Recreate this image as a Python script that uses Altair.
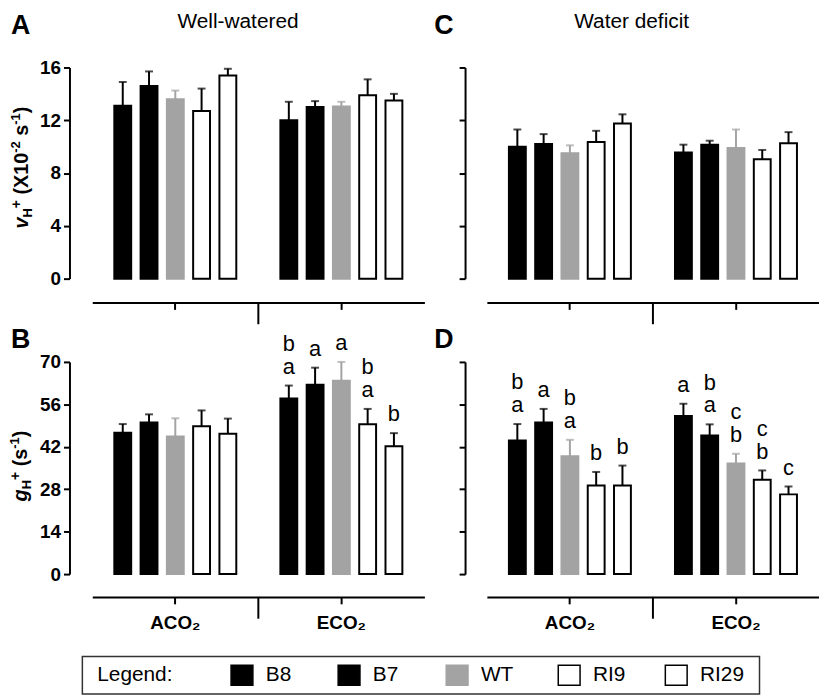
import altair as alt
import pandas as pd

FONT = "Liberation Sans"

genotypes = ["B8", "B7", "WT", "RI9", "RI29"]
co2_levels = ["ACO₂", "ECO₂"]
fill_colors = ["#000000", "#000000", "#a3a3a3", "#ffffff", "#ffffff"]
edge_colors = ["#000000", "#000000", "#a3a3a3", "#000000", "#000000"]

# Panel A: vH+ (x10^-2 s^-1), well-watered
a_mean_aco2 = [13.1, 14.6, 13.6, 12.7, 15.4]
a_se_aco2 = [1.8, 1.1, 0.65, 1.7, 0.5]
a_mean_eco2 = [12.0, 13.0, 13.05, 13.9, 13.5]
a_se_eco2 = [1.4, 0.45, 0.35, 1.2, 0.5]

# Panel C: vH+ water deficit
c_mean_aco2 = [10.0, 10.2, 9.5, 10.35, 11.75]
c_se_aco2 = [1.3, 0.75, 0.6, 0.85, 0.7]
c_mean_eco2 = [9.55, 10.15, 9.9, 9.05, 10.25]
c_se_eco2 = [0.6, 0.3, 1.4, 0.7, 0.85]

# Panel B: gH+ (s^-1), well-watered
b_mean_aco2 = [46.6, 50.0, 45.4, 48.8, 46.3]
b_se_aco2 = [2.9, 2.7, 6.0, 5.2, 5.0]
b_mean_eco2 = [57.9, 62.5, 63.8, 49.4, 42.2]
b_se_eco2 = [4.3, 5.6, 6.2, 5.1, 4.3]
b_lower_aco2 = ["", "", "", "", ""]
b_upper_aco2 = ["", "", "", "", ""]
b_lower_eco2 = ["a", "a", "a", "a", "b"]
b_upper_eco2 = ["b", "", "", "b", ""]

# Panel D: gH+ water deficit
d_mean_aco2 = [44.1, 50.0, 38.9, 29.2, 29.2]
d_se_aco2 = [5.4, 4.5, 5.4, 4.5, 6.6]
d_mean_eco2 = [52.2, 45.7, 36.5, 31.1, 26.3]
d_se_eco2 = [4.0, 3.7, 3.2, 3.1, 2.6]
d_lower_aco2 = ["a", "a", "a", "b", "b"]
d_upper_aco2 = ["b", "", "b", "", ""]
d_lower_eco2 = ["a", "a", "b", "b", "c"]
d_upper_eco2 = ["", "b", "c", "c", ""]

empty = ["", "", "", "", ""]


def make_df(m1, s1, m2, s2, lo1=empty, up1=empty, lo2=empty, up2=empty):
    rows = []
    for co2, m, s, lo, up in [(co2_levels[0], m1, s1, lo1, up1), (co2_levels[1], m2, s2, lo2, up2)]:
        for g, mv, sv, l, u in zip(genotypes, m, s, lo, up):
            rows.append({"co2": co2, "genotype": g, "mean": mv, "top": mv + sv,
                         "lower": l, "upper": u})
    return pd.DataFrame(rows)


dummy = pd.DataFrame({"d": [0]})

# Arial-bold advance widths (per 1000 em) for composing rotated axis titles
W = {"v": 556, "g": 611, "H": 722, "+": 584, " ": 278, "(": 333, ")": 333,
     "X": 667, "1": 556, "0": 556, "-": 333, "2": 556, "s": 556}


def seg_w(t, size):
    return sum(W[c] for c in t) * size / 1000.0


def rotated_title(segs, x0, yc):
    total = sum(seg_w(t, s) for t, s, _, _ in segs)
    y0 = yc + total / 2
    out = []
    adv = 0.0
    for t, s, style, shift in segs:
        stripped = t.lstrip(" ")
        adv += seg_w(t[: len(t) - len(stripped)], s)
        out.append(
            alt.Chart(dummy).mark_text(
                text=stripped, angle=270, align="left", baseline="alphabetic",
                fontSize=s, fontWeight="bold", fontStyle=style, font=FONT,
                dx=adv, dy=shift, color="black",
            ).encode(x=alt.value(x0), y=alt.value(y0))
        )
        adv += seg_w(stripped, s)
    return out


def label_text(txt, x, y, size, weight="normal", align="left", baseline="alphabetic"):
    return alt.Chart(dummy).mark_text(
        text=txt, fontSize=size, fontWeight=weight, font=FONT, align=align,
        baseline=baseline, color="black",
    ).encode(x=alt.value(x), y=alt.value(y))


def panel(df, ymax, ystep, h, ylabels, xlabels, xoff, yoff, extra):
    xscale = alt.Scale(domain=co2_levels, paddingInner=0, paddingOuter=0)
    x = alt.X("co2:N", sort=co2_levels, scale=xscale,
              axis=alt.Axis(title=None, labels=xlabels, offset=xoff, tickSize=7,
                            labelPadding=10, labelFontSize=19, labelFontWeight="bold",
                            labelAngle=0, domainWidth=2, tickWidth=2,
                            domainColor="black", tickColor="black", labelColor="black",
                            labelFont=FONT))
    xo = alt.XOffset("genotype:N", sort=genotypes,
                     scale=alt.Scale(domain=genotypes, paddingInner=0.358, paddingOuter=0.839))
    yscale = alt.Scale(domain=[0, ymax], nice=False, zero=True)
    y = alt.Y("mean:Q", scale=yscale,
              axis=alt.Axis(title=None, values=list(range(0, ymax + 1, ystep)),
                            labels=ylabels, offset=yoff, tickSize=6, labelPadding=3,
                            labelFontSize=19, labelFontWeight="bold", grid=False,
                            domainWidth=2, tickWidth=2, domainColor="black",
                            tickColor="black", labelColor="black", labelFont=FONT))
    fill = alt.Fill("genotype:N", scale=alt.Scale(domain=genotypes, range=fill_colors), legend=None)
    edge = alt.Stroke("genotype:N", scale=alt.Scale(domain=genotypes, range=edge_colors), legend=None)
    edge_c = alt.Color("genotype:N", scale=alt.Scale(domain=genotypes, range=edge_colors), legend=None)

    base = alt.Chart(df)
    bars = base.mark_bar(strokeWidth=2).encode(x=x, xOffset=xo, y=y, fill=fill, stroke=edge)
    err = base.mark_rule(strokeWidth=2).encode(x=x, xOffset=xo, y="mean:Q", y2="top:Q", stroke=edge)
    cap = base.mark_tick(thickness=2, size=8).encode(x=x, xOffset=xo, y="top:Q", color=edge_c)
    low = base.mark_text(fontSize=22, font=FONT, baseline="middle", dy=-19, color="black").encode(
        x=x, xOffset=xo, y="top:Q", text="lower:N")
    up = base.mark_text(fontSize=22, font=FONT, baseline="middle", dy=-42, color="black").encode(
        x=x, xOffset=xo, y="top:Q", text="upper:N")
    divider = alt.Chart(pd.DataFrame({"co2": [co2_levels[1]]})).mark_rule(
        strokeWidth=2, color="black").encode(
        x=alt.X("co2:N", sort=co2_levels, bandPosition=0, scale=xscale),
        y=alt.value(h + xoff), y2=alt.value(h + xoff + 22))
    return alt.layer(bars, err, cap, low, up, divider, *extra).properties(width=335, height=h)


dfA = make_df(a_mean_aco2, a_se_aco2, a_mean_eco2, a_se_eco2)
dfC = make_df(c_mean_aco2, c_se_aco2, c_mean_eco2, c_se_eco2)
dfB = make_df(b_mean_aco2, b_se_aco2, b_mean_eco2, b_se_eco2,
              b_lower_aco2, b_upper_aco2, b_lower_eco2, b_upper_eco2)
dfD = make_df(d_mean_aco2, d_se_aco2, d_mean_eco2, d_se_eco2,
              d_lower_aco2, d_upper_aco2, d_lower_eco2, d_upper_eco2)

titleA = rotated_title([("v", 20, "italic", 0), ("H", 13, "normal", 4), ("+", 14, "normal", -7),
                        (" (X10", 20, "normal", 0), ("-2", 13, "normal", -8),
                        (" s", 20, "normal", 0), ("-1", 13, "normal", -8), (")", 20, "normal", 0)],
                       -64.5, 101)
titleB = rotated_title([("g", 20, "italic", 0), ("H", 13, "normal", 4), ("+", 14, "normal", -7),
                        (" (s", 20, "normal", 0), ("-1", 13, "normal", -8), (")", 20, "normal", 0)],
                       -66, 105)

extraA = [label_text("A", -82, -34, 27, "bold"),
          label_text("Well-watered", 147, -40, 21, align="center")] + titleA
extraC = [label_text("C", -53, -34, 27, "bold"),
          label_text("Water deficit", 146, -40, 21, align="center")]
extraD = [label_text("D", -53, -14, 27, "bold")]

# legend (drawn in panel B's coordinates)
legend_layers = [
    alt.Chart(dummy).mark_rect(fillOpacity=0, stroke="#333333", strokeWidth=1.5).encode(
        x=alt.value(-10), x2=alt.value(673), y=alt.value(297), y2=alt.value(335)),
    label_text("Legend:", 5, 316, 21, baseline="middle"),
]
sw_x = [140, 248, 357, 470, 578]
for g, fc, ec, sx in zip(genotypes, fill_colors, edge_colors, sw_x):
    legend_layers.append(
        alt.Chart(dummy).mark_rect(fill=fc, stroke=ec, strokeWidth=1.5).encode(
            x=alt.value(sx), x2=alt.value(sx + 22), y=alt.value(306), y2=alt.value(326)))
    legend_layers.append(label_text(g, sx + 35, 316, 21, baseline="middle"))

extraB = [label_text("B", -82, -14, 27, "bold")] + titleB + legend_layers

pA = panel(dfA, 16, 4, 213, True, False, 24, 23, extraA)
pC = panel(dfC, 16, 4, 213, False, False, 24, 22, extraC)
pB = panel(dfB, 70, 14, 214, True, True, 23, 23, extraB)
pD = panel(dfD, 70, 14, 214, False, True, 23, 22, extraD)

chart = alt.concat(pA, pC, pB, pD, columns=2, spacing={"row": 84, "column": 63},
                   bounds="flush").properties(padding=0).configure_view(stroke=None)

chart.save("out.html", embed_options={"renderer": "svg", "actions": False})
